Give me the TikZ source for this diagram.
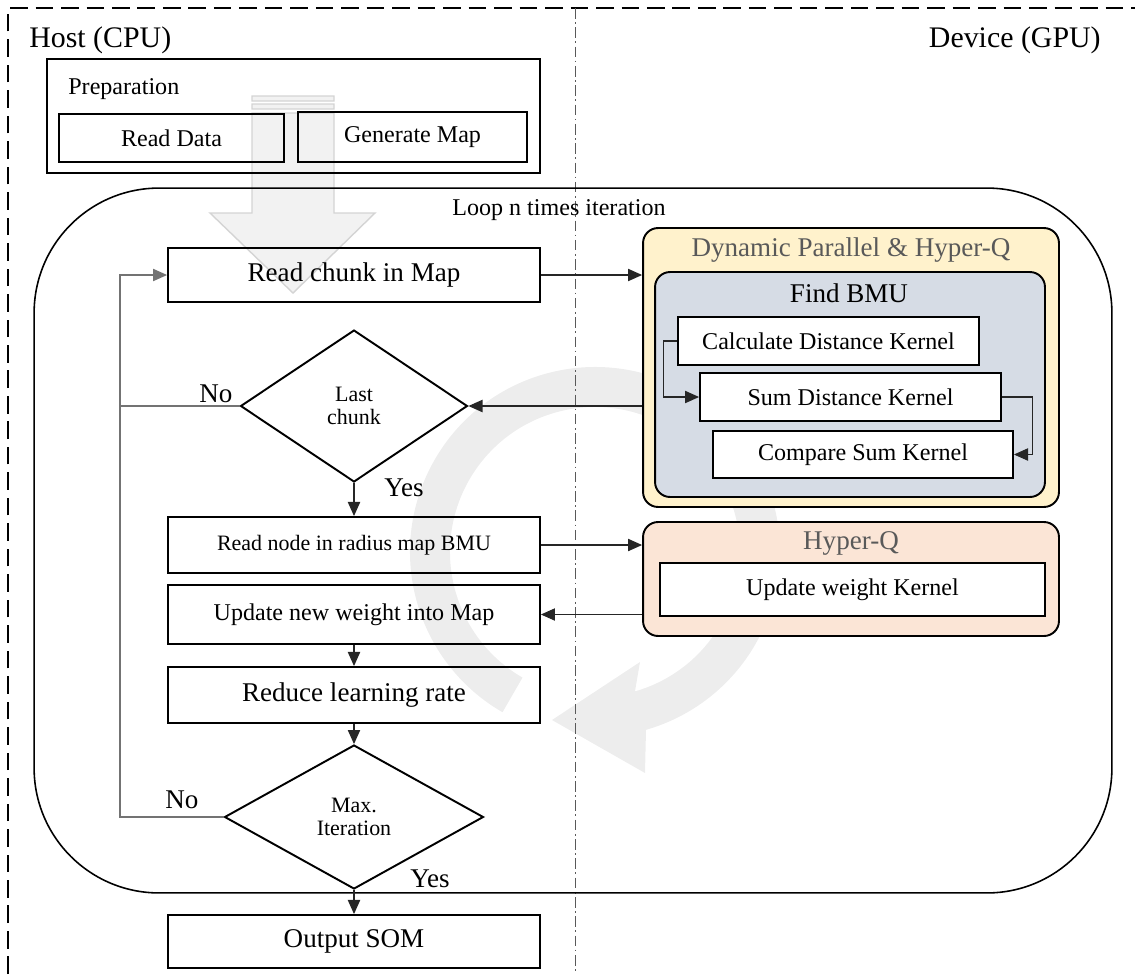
\documentclass[tikz,border=0pt]{standalone}
\usepackage{fontspec}
\setmainfont{Liberation Serif}
\usetikzlibrary{positioning}
\usetikzlibrary{calc}
\usetikzlibrary{arrows.meta}
\usetikzlibrary{shapes.geometric}
\definecolor{ringgray}{HTML}{EDEDED}
\definecolor{arrowfill}{HTML}{F2F2F2}
\definecolor{arrowedge}{HTML}{D4D4D4}
\definecolor{dynfill}{HTML}{FFF2CC}
\definecolor{bmufill}{HTML}{D6DCE5}
\definecolor{hypfill}{HTML}{FBE5D6}
\definecolor{titlegray}{HTML}{595959}
\newcommand{\fntHead}{\fontsize{17}{20}\selectfont}
\newcommand{\fntMain}{\fontsize{15.4}{18}\selectfont}
\newcommand{\fntSub}{\fontsize{13.7}{16}\selectfont}
\newcommand{\fntDec}{\fontsize{12.5}{13.5}\selectfont}
\tikzset{
  box/.style            = { rectangle, inner sep=0pt, align=center },
  border/.style         = { line width=1.1pt, draw=black },
  round/.style          = { rounded corners=3mm },
}
\tikzset{
  flow/.style           = { box, border, minimum width=7.44cm },
  decision/.style       = { diamond, border, inner sep=0pt, align=center, font=\fntDec },
  prepitem/.style       = { box, border, font=\fntSub },
  kernel/.style         = { box, border, fill=white, font=\fntSub, minimum height=0.96cm },
  group/.style          = { box, border, round },
  txt/.style            = { inner sep=0pt, font=\fntMain },
  grouptitle/.style     = { txt, text=titlegray },
  link/.style           = { line width=0.6pt, black!85 },
  backlink/.style       = { line width=0.6pt, black!55 },
  sepline/.style        = { line width=0.5pt, black!65, dash pattern=on 6pt off 2pt on 1pt off 2pt },
  hostline/.style       = { line width=1.4pt, dash pattern=on 10pt off 4.5pt }
}

\begin{document}
\begin{tikzpicture}[
  x=0.02cm,y=-0.02cm,
  >={Triangle[length=8pt,width=7pt]}
]
  \useasboundingbox (0,0) rectangle (1135,974);

  % background shapes
  \coordinate (cen) at (595,552);
  \fill [ringgray] ($(cen)+(120:185)$) arc [start angle=120, end angle=434, radius=185]
    -- (645,773) -- (552,720) -- (640,662)
    -- ($(cen)+(434:145)$) arc [start angle=434, end angle=120, radius=145] -- cycle;
  \filldraw [fill=arrowfill, draw=arrowedge, line width=0.8pt]
    (252,96) rectangle (334,101) (252,104) rectangle (334,109)
    (252,113) -- (334,113) -- (334,213) -- (375,213) -- (293,293) -- (210,213) -- (252,213) -- cycle;

  \draw [hostline] (8,974) -- (8,8) -- (1135,8);
  \draw [sepline]  (575,8) -- (575,974);

  \node (host)   [txt,font=\fntHead,anchor=base west] at (29,47)   {Host (CPU)};
  \node (device) [txt,font=\fntHead,anchor=base east] at (1101,47) {Device (GPU)};

  \node (prep)      [box,border,minimum width=9.86cm,minimum height=2.28cm] at (293.5,116) {};
  \node (preptitle) [txt,font=\fntSub,anchor=base west]                     at (68,94)     {Preparation};
  \node (readdata)  [prepitem,minimum width=4.5cm,minimum height=0.96cm]    at (171.5,138) {Read Data};
  \node (genmap)    [prepitem,minimum width=4.58cm,minimum height=1cm]      at (412.5,137) {Generate Map};

  \node (loop)      [draw,line width=0.9pt,rounded corners=2.5cm,minimum width=21.56cm,minimum height=14.1cm] at (573,540.5) {};
  \node (looptitle) [txt,font=\fntSub,anchor=base west] at (452,215) {Loop n times iteration};

  \node (chunk)  [flow,font=\fntMain,minimum height=1.08cm]          at (354,275)   {Read chunk in Map};
  \node (last)   [decision,minimum width=4.54cm,minimum height=3.04cm] at (354,406)   {Last\\chunk};
  \node (radius) [flow,font=\fntDec,minimum height=1.12cm]           at (354,545)   {Read node in radius map BMU};
  \node (update) [flow,font=\fntSub,minimum height=1.18cm]           at (354,614.5) {Update new weight into Map};
  \node (reduce) [flow,font=\fntMain,minimum height=1.12cm]          at (354,695)   {Reduce learning rate};
  \node (maxit)  [decision,minimum width=5.18cm,minimum height=2.88cm] at (354,817)   {Max.\\Iteration};
  \node (som)    [flow,font=\fntMain,minimum height=1.06cm]          at (354,941.5) {Output SOM};

  \node (dyn)      [group,fill=dynfill,minimum width=8.32cm,minimum height=5.58cm] at (851,367.5) {};
  \node (dyntitle) [grouptitle,anchor=base]                                      at (851,256)   {Dynamic Parallel \& Hyper-Q};
  \node (bmu)      [group,fill=bmufill,minimum width=7.8cm,minimum height=4.5cm]   at (850,384.5) {};
  \node (bmutitle) [txt,anchor=base]                                             at (849,302)   {Find BMU};
  \node (calc)     [kernel,minimum width=6.02cm]                                 at (828.5,341) {Calculate Distance Kernel};
  \node (sum)      [kernel,minimum width=6.02cm]                                 at (850.5,397) {Sum Distance Kernel};
  \node (cmp)      [kernel,minimum width=6cm,minimum height=0.94cm]              at (863,454.5) {Compare Sum Kernel};
  \node (hyp)      [group,fill=hypfill,minimum width=8.32cm,minimum height=2.28cm] at (851,579)   {};
  \node (hyptitle) [grouptitle,anchor=base]                                      at (851,549)   {Hyper-Q};
  \node (wkernel)  [kernel,minimum width=7.7cm,minimum height=1.06cm]            at (852.5,589.5) {Update weight Kernel};

  \coordinate (back) at (120,275);
  \draw [link,->] (chunk.east) -- (chunk.east -| dyn.west);
  \draw [link,->] (dyn.west |- last.east) -- (last.east);
  \draw [link,->] (radius.east) -- (radius.east -| hyp.west);
  \draw [link,->] (hyp.west |- update.east) -- (update.east);
  \draw [link,->] (last.south) -- (radius.north);
  \draw [link,->] (update.south) -- (reduce.north);
  \draw [link,->] (reduce.south) -- (maxit.north);
  \draw [link,->] (maxit.south) -- (som.north);
  \draw [backlink]    (last.west) -- (last.west -| back);
  \draw [backlink,->] (maxit.west) -| (back) -- (chunk.west);
  \draw [link,->] (calc.west) -- ++(-14,0) |- (sum.west);
  \draw [link,->] (sum.east) -- ++(31,0) |- (cmp.east);

  \node (no1)  [txt,anchor=base west] at (199,402) {No};
  \node (yes1) [txt,anchor=base west] at (384,496) {Yes};
  \node (no2)  [txt,anchor=base west] at (165,808) {No};
  \node (yes2) [txt,anchor=base west] at (410,887) {Yes};

\end{tikzpicture}
\end{document}
